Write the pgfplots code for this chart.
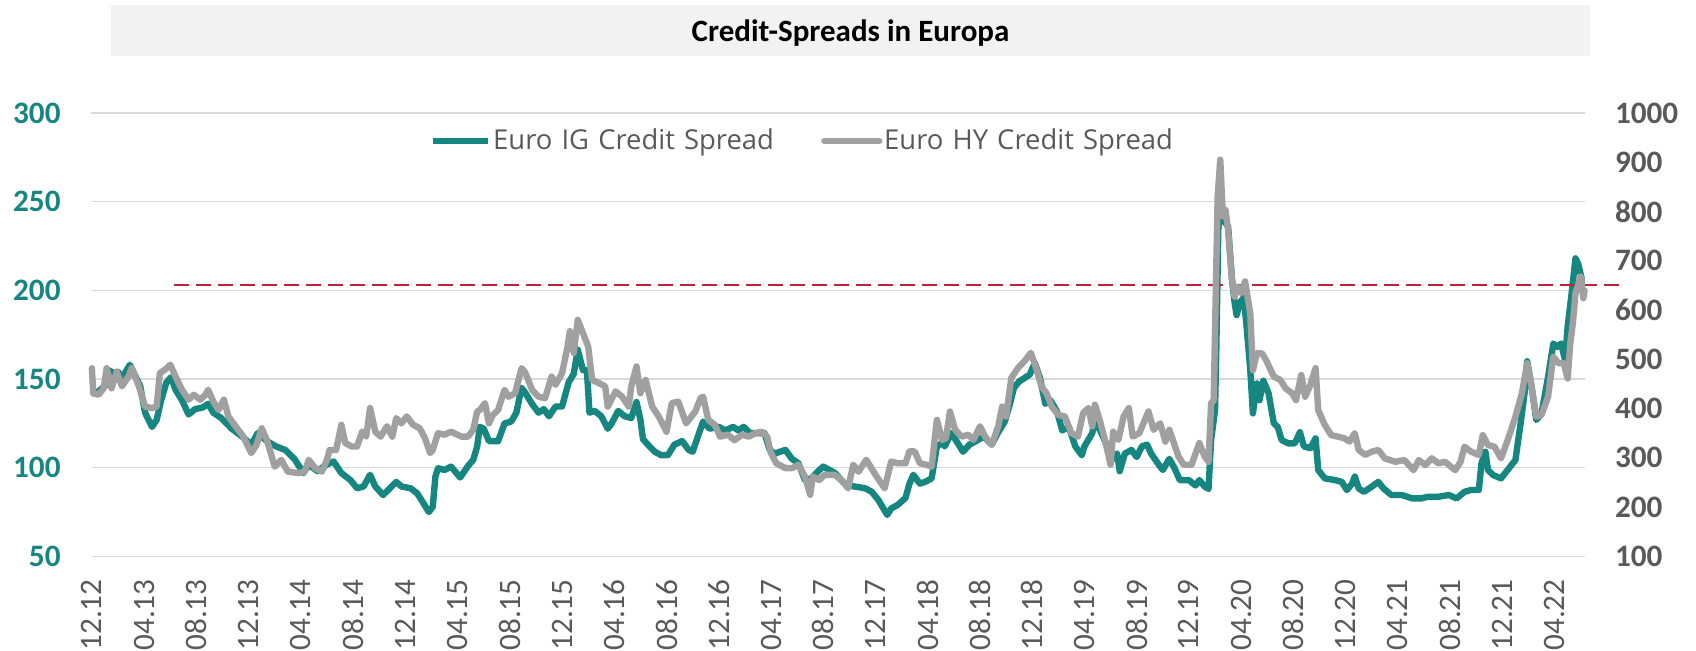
\documentclass[border=0pt]{standalone}
\usepackage{fontspec}
\setmainfont{Carlito}
\newfontfamily\legendfont{Open Sans}
\usepackage{pgfplots}
\pgfplotsset{compat=1.18}
\definecolor{igc}{HTML}{168680}
\definecolor{hyc}{HTML}{A0A0A0}
\definecolor{redc}{HTML}{C0213A}
\definecolor{gridc}{HTML}{D9D9D9}
\definecolor{labc}{HTML}{595959}
\definecolor{titlebg}{HTML}{F2F2F2}
\newcommand{\tickfont}{\fontsize{15.6}{18}\selectfont}
\begin{document}
\begin{tikzpicture}
\useasboundingbox (0,0) rectangle (848pt,325.5pt);
\fill[titlebg] (55.5pt,297.5pt) rectangle (795pt,323pt);
\node[anchor=base,inner sep=0pt,font=\fontsize{15.5}{18}\selectfont\bfseries] at (425.25pt,304.75pt) {Credit-Spreads in Europa};
\begin{axis}[
  at={(45.5pt,47.3pt)}, anchor=south west,
  scale only axis, width=746.8pt, height=221.75pt,
  xmin=-0.07, xmax=114.3, ymin=50, ymax=300,
  ytick={50,100,...,300},
  ymajorgrids, grid style={gridc, line width=0.75pt},
  axis line style={draw=none}, major tick length=0pt,
  xtick={0,4,...,112},
  xticklabels={12.12,04.13,08.13,12.13,04.14,08.14,12.14,04.15,08.15,12.15,04.16,08.16,12.16,04.17,08.17,12.17,04.18,08.18,12.18,04.19,08.19,12.19,04.20,08.20,12.20,04.21,08.21,12.21,04.22},
  xticklabel style={rotate=90, anchor=east, inner sep=0pt, font=\tickfont, text=labc},
  xticklabel shift=11.3pt,
  yticklabel style={anchor=east, inner sep=0pt, font=\tickfont\bfseries, text=igc},
  yticklabel shift=15pt,
  /pgf/number format/assume math mode=true,
]
\addplot[igc, line width=3.2pt, line join=round, line cap=round] coordinates {
(0,142)(0.5,143)(1.0,146)(1.26,155)(1.77,153)(2.0,154)(2.3,150.5)(2.9,158)(3.3,152)(3.7,146)(4.07,131)(4.6,123)(4.96,127)(5.3,138)(5.7,148)(6.06,151)(6.4,144)(6.9,138)(7.4,130)(7.9,133)(8.5,134)(8.9,136)(9.3,131)(9.9,128)(10.7,122)(11.5,117.6)(12.2,113)(12.7,119.5)(13.4,115)(14.1,112)(14.8,110)(15.5,105)(16.2,97)(16.6,101.6)(17.3,98)(17.8,101)(18.5,103.5)(19.1,97)(19.8,93)(20.3,88.4)(20.8,89.4)(21.3,96)(21.7,89.4)(22.3,84.6)(22.7,87.5)(23.3,92)(23.7,89.4)(24.4,88.4)(24.9,85.6)(25.3,81)(25.8,75)(26.1,78)(26.3,95)(26.5,99.7)(27.0,98.7)(27.5,100.6)
(28.2,94.5)(28.8,101)(29.2,104.4)(29.5,112)(29.7,123)(30.0,122)(30.4,115)(31.1,115)(31.6,125)(32.1,126)(32.5,131)(32.9,145)(33.2,142)(33.7,136)(34.2,131)(34.6,133)(35.0,129)(35.5,134.5)(36.0,134.5)(36.5,148)(36.9,153)(37.2,166.5)(37.6,155)(37.9,155)(38.1,131)(38.5,132)(39.0,129)(39.5,122)(39.8,125)(40.3,132)(40.8,129)(41.3,128)(41.7,137)(42.0,127)(42.2,116)(42.7,112)(43.1,109)(43.6,107)(44.1,107)(44.6,113)(45.2,115)(45.7,110)(46.0,109)(46.4,117.6)(46.8,126)(47.3,122)(48.0,123)(48.5,121)(49.1,123)(49.5,121)(49.9,123)(50.4,119.5)(51.0,119.5)(51.5,119.5)(51.9,110)(52.3,108)(52.7,109)(53.1,110)(53.6,105)(54.1,102.5)(54.6,93)(55.1,94)(55.6,98)(56.0,100.6)
(56.9,97)(57.5,92)(57.9,90)(58.4,89.4)(59.2,88.4)(59.7,86.5)(60.2,82)(60.9,73.4)(61.2,77)(61.7,79)(62.3,83)(62.6,91)(62.9,96)(63.4,91)(63.8,92)(64.3,94)(64.7,112)(65.1,114)(65.3,112)(65.8,119.5)(66.2,115)(66.7,109)(67.2,113)(67.7,115)(68.3,117.6)(68.9,113)(69.4,120)(69.9,126)(70.3,136)(70.6,145)(71.0,148.6)(71.4,150.5)(71.8,152.4)(72.2,159)(72.6,150.5)(73.0,136)(73.4,138)(73.9,131.7)(74.3,121)(74.8,123)(75.3,112)(75.8,107)(76.0,112)(76.6,119.5)(76.8,127)(77.2,121)(77.7,113)(78.1,104.4)(78.5,108)(78.7,98)(79.1,108)(79.6,110)(80.0,106)(80.4,112)(80.8,113)(81.1,108)(81.7,101.6)(82.0,98.7)(82.5,105)(82.9,99.7)(83.3,93)(84.0,93)(84.5,90)(84.8,93)(85.2,89.4)
(85.5,88)(85.7,115.6)(86.0,132.5)(86.1,168)(86.25,234)(86.4,245)(86.6,240)(87.0,236)(87.3,206)(87.5,193)(87.65,186)(87.9,193)(88.2,196)(88.4,181)(88.7,155)(88.9,130.6)(89.2,147.5)(89.4,138)(89.7,149)(90.1,142)(90.5,125)(90.8,123)(91.1,115.6)(91.6,113.7)(92.1,113.7)(92.5,120)(92.8,112)(93.3,111)(93.7,116.5)(93.9,98.7)(94.4,94)(95.2,93)(95.7,92)(96.1,87.4)(96.5,91)(96.7,95)(97.0,88.3)(97.4,86.4)(98.0,89.3)(98.5,92)(98.9,88.3)(99.5,84.6)(100.3,84.6)(101.1,82.7)(101.8,82.7)(102.3,83.6)(103.1,83.6)(103.9,84.6)(104.5,82.7)(105.1,86.4)(105.6,87.4)(106.2,87.4)(106.4,102.4)(106.7,109)(106.9,98.7)(107.3,95.8)(107.9,94)(108.5,99.6)(109.0,104.3)(109.4,125)(109.7,142)(109.9,160)(110.2,147.5)(110.6,126.9)(111.0,130.6)(111.5,151)(111.9,170)(112.2,168)(112.5,170)(112.8,160.7)(113.0,179.5)(113.3,198)(113.6,218)(113.8,215)(114.1,206)(114.3,204)
};
\end{axis}
\begin{axis}[
  at={(45.5pt,47.3pt)}, anchor=south west,
  scale only axis, width=746.8pt, height=221.75pt,
  xmin=-0.07, xmax=114.3, ymin=100, ymax=1000,
  ytick={100,200,...,1000},
  hide x axis,
  axis line style={draw=none}, major tick length=0pt,
  yticklabel pos=right,
  yticklabel style={anchor=west, inner sep=0pt, font=\tickfont\bfseries, text=labc},
  yticklabel shift=15pt,
  /pgf/number format/assume math mode=true,
  /pgf/number format/set thousands separator={},
  clip=false,
  legend image code/.code={\path (0pt,0pt) -- (27.5pt,0pt); \draw[#1, line width=3.3pt, line cap=round] (1.65pt,0pt) -- (25.85pt,0pt);},
  legend style={at={(0.2271,0.9366)}, anchor=west, draw=none, fill=none, inner sep=0pt, outer sep=0pt,
    legend columns=2, font=\legendfont\fontsize{13.7}{16}\selectfont, text=labc,
    /tikz/every odd column/.style={column sep=0.8pt},
    /tikz/every even column/.style={column sep=0pt},
    nodes={inner sep=0pt, text width=164pt, align=left}},
]
\addlegendimage{igc, line width=3.2pt}
\addlegendentry{Euro IG Credit Spread}
\addplot[redc, line width=1pt, dash pattern=on 7.5pt off 3.5pt, forget plot] coordinates {(6.25,650)(117.1,650)};
\addplot[hyc, line width=3.2pt, line join=round, line cap=round] coordinates {
(0,482)(0.1,431)(0.5,428)(0.9,441)(1.13,482)(1.5,441)(1.9,475)(2.3,445)(2.8,465)(3.05,482)(3.6,445)(4.07,404)(4.6,401)(4.96,404)(5.2,472)(5.6,479)(6.0,489)(6.4,465)(6.9,438)(7.4,418)(7.8,428)(8.3,418)(8.7,428)(8.9,438)(9.3,414)(9.7,397)(10.1,418)(10.45,384)(11.0,364)(11.6,343)(12.2,309.6)(12.6,326)(13.0,360)(13.4,336)(14.0,282)(14.5,296)(15.0,272)(15.8,269)(16.3,272)(16.6,296)(17.1,279)(17.6,272)(18.0,296)(18.2,316)(18.7,316)(19.1,367)(19.4,330)(19.9,323)(20.3,323)(20.7,353.4)(21.0,343)(21.3,401)(21.7,353)(22.1,343)(22.6,364)(23.0,343)(23.3,380.5)(23.7,370)(24.1,384)(24.6,367)(25.1,360)(25.5,340)(25.9,309.6)(26.1,316)(26.5,350)(27.0,347)(27.5,353)
(28.3,343)(28.8,343)(29.2,357)(29.5,394)(29.7,397)(30.1,411)(30.4,370)(30.7,387)(31.1,397)(31.6,438)(31.9,424)(32.4,431)(32.9,482)(33.2,472)(33.7,438)(34.2,424)(34.7,421)(35.2,465)(35.5,448)(36.0,472)(36.4,523)(36.6,557)(36.9,513)(37.2,580)(37.6,553)(38.0,526)(38.3,458)(38.8,452)(39.3,445)(39.5,404)(40.1,435)(40.6,424)(41.1,404)(41.3,445)(41.7,485.5)(42.0,431)(42.4,458)(42.9,404)(43.4,384)(44.0,353)(44.4,411)(44.9,414)(45.5,370)(46.2,394)(46.6,421)(46.8,424)(47.2,377)(47.7,367)(48.1,343)(48.7,347)(49.2,336)(49.8,347)(50.3,343)(50.8,350)(51.3,353)(51.7,343)(52.0,309.6)(52.4,289)(53.1,279)(53.6,279)(54.1,286)(54.6,262)(55.0,225)(55.2,262)(55.7,255)(56.1,265.5)
(56.9,265.5)(57.5,252)(57.9,238)(58.3,286)(58.7,272)(59.3,296)(60.0,265.5)(60.7,238)(61.2,292.5)(61.7,289)(62.3,289)(62.6,313)(63.0,313)(63.4,289)(63.9,286)(64.3,282)(64.7,377)(65.1,336.5)(65.4,340)(65.7,394)(66.1,357)(66.6,343)(67.1,347)(67.5,336.5)(68.0,364)(68.4,343)(68.9,326)(69.4,364)(69.7,404)(70.0,384)(70.4,462)(70.9,482)(71.4,496)(71.9,513)(72.3,482)(72.7,445)(73.1,431)(73.5,404)(74.0,387)(74.5,384)(75.0,350)(75.5,343)(75.9,391)(76.3,401)(76.6,364)(76.8,408)(77.2,374)(77.6,333)(78.0,286)(78.2,353)(78.6,336.5)(79.0,384)(79.4,401)(79.7,343)(80.2,350)(80.9,394)(81.3,357)(81.8,370)(82.2,333)(82.5,357)(83.2,303)(83.6,286)(84.2,286)(84.8,330)(85.2,303)
(85.5,292)(85.7,411)(85.9,417)(86.0,559)(86.2,830)(86.4,905)(86.6,790)(86.8,803)(87.0,762)(87.3,661)(87.5,627)(87.7,647.5)(88.0,634)(88.3,658)(88.7,593)(88.9,478)(89.2,512)(89.6,512)(89.9,498.6)(90.5,465)(91.0,458)(91.4,441)(91.9,431)(92.2,417)(92.6,468)(92.9,424)(93.3,448)(93.7,482)(93.9,397)(94.4,367)(94.9,346)(95.4,343)(95.9,339.6)(96.3,333)(96.7,350)(97.0,316)(97.5,306)(98.0,312.5)(98.5,316)(99.0,299)(99.8,292)(100.5,295.6)(101.2,275)(101.6,295.6)(102.1,285.4)(102.6,299)(103.1,289)(103.6,292)(104.4,275)(104.8,292)(105.1,322.6)(105.6,312.5)(106.2,306)(106.5,346)(106.9,326)(107.4,322.6)(107.9,299)(108.5,343)(109.0,383.5)(109.5,431)(109.9,492)(110.2,451)(110.6,383.5)(111.0,387)(111.5,424)(111.9,505.5)(112.3,492)(112.7,492)(113.0,461)(113.2,532)(113.4,573)(113.6,634)(114.0,668)(114.2,624)(114.3,640)
};
\addlegendentry{Euro HY Credit Spread}
\end{axis}
\end{tikzpicture}
\end{document}
